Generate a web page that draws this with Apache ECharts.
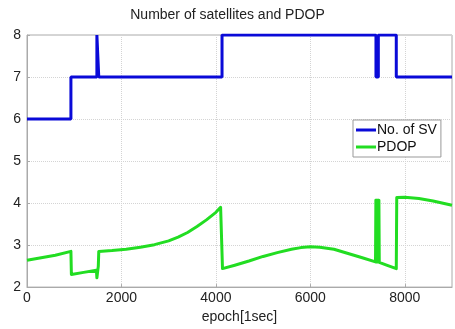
<!DOCTYPE html>
<html><head><meta charset="utf-8">
<script src="https://cdn.jsdelivr.net/npm/echarts@6/dist/echarts.min.js"></script>
<style>html,body{margin:0;padding:0;background:#fff}#c{width:455px;height:329px}</style>
</head><body><div id="c"></div>
<script>
const title = "Number of satellites and PDOP";
const xLabel = "epoch[1sec]";
const seriesNames = ["No. of SV", "PDOP"];
const svX = [0, 930, 930, 1480, 1480, 1520, 1520, 4130, 4130, 7390, 7390, 7440, 7440, 7820, 7820, 9000];
const svY = [6, 6, 7, 7, 8, 8, 7, 7, 8, 8, 7, 7, 8, 8, 7, 7];
const pdopX = [0, 300, 600, 930, 940, 1200, 1470, 1480, 1500, 1510, 1520, 1800, 2100, 2400, 2700, 3000, 3200, 3400, 3600, 3800, 4000, 4100, 4140, 4400, 4700, 5000, 5300, 5600, 5800, 6000, 6200, 6500, 6800, 7100, 7380, 7388, 7396, 7404, 7412, 7420, 7428, 7436, 7444, 7452, 7460, 7600, 7820, 7830, 8000, 8300, 8600, 9000];
const pdopY = [2.64, 2.7, 2.76, 2.85, 2.3, 2.35, 2.4, 2.22, 2.2, 2.5, 2.85, 2.87, 2.9, 2.95, 3.01, 3.1, 3.19, 3.3, 3.44, 3.6, 3.78, 3.9, 2.44, 2.52, 2.62, 2.73, 2.82, 2.9, 2.94, 2.96, 2.95, 2.9, 2.8, 2.7, 2.6, 4.07, 2.6, 4.07, 2.6, 4.07, 2.6, 4.07, 2.6, 4.07, 2.59, 2.53, 2.44, 4.13, 4.14, 4.11, 4.05, 3.95];
const yTicks = [2, 3, 4, 5, 6, 7, 8];

const sv = svX.map((x, i) => [x, svY[i]]);
const pd = pdopX.map((x, i) => [x, pdopY[i]]);
const chart = echarts.init(document.getElementById('c'));
chart.setOption({
  animation: false,
  backgroundColor: '#fff',
  title: { text: title, left: 'center', top: 3, textStyle: { fontFamily: 'Liberation Sans, Arial', fontSize: 14, fontWeight: 'normal', color: '#222' } },
  grid: { left: 27, right: 3, top: 35, bottom: 39, show: true, borderColor: '#aaa', borderWidth: 1 },
  xAxis: {
    type: 'value', min: 0, max: 9000, interval: 2000,
    name: xLabel, nameLocation: 'middle', nameGap: 19,
    nameTextStyle: { fontFamily: 'Liberation Sans, Arial', fontSize: 14, color: '#222' },
    axisLine: { show: true, lineStyle: { color: '#aaa' } },
    axisTick: { show: true, inside: true, length: 3, lineStyle: { color: '#aaa' } },
    axisLabel: { showMaxLabel: false, margin: 4, formatter: v => String(v), fontFamily: 'Liberation Sans, Arial', fontSize: 14, color: '#222' },
    splitLine: { show: true, lineStyle: { color: '#d4d4d4', type: 'dotted' } }
  },
  yAxis: {
    type: 'value', min: yTicks[0], max: yTicks[yTicks.length - 1], interval: 1,
    axisLine: { show: true, lineStyle: { color: '#aaa' } },
    axisTick: { show: true, inside: true, length: 3, lineStyle: { color: '#aaa' } },
    axisLabel: { margin: 6, fontFamily: 'Liberation Sans, Arial', fontSize: 14, color: '#222' },
    splitLine: { show: true, lineStyle: { color: '#d4d4d4', type: 'dotted' } }
  },
  legend: {
    orient: 'vertical', left: 353, top: 120, width: 99,
    backgroundColor: '#fff', borderColor: '#999', borderWidth: 1, borderRadius: 0,
    padding: [3, 4, 3, 3], itemGap: 3, itemWidth: 20, itemHeight: 3, icon: 'rect',
    textStyle: { fontFamily: 'Liberation Sans, Arial', fontSize: 14, color: '#111', padding: [0, 0, 0, -4] },
    data: seriesNames
  },
  series: [
    { name: seriesNames[0], type: 'line', data: sv, showSymbol: false, symbol: 'none', lineStyle: { color: '#0a0ad8', width: 3 }, itemStyle: { color: '#0a0ad8' } },
    { name: seriesNames[1], type: 'line', data: pd, showSymbol: false, symbol: 'none', lineStyle: { color: '#22dd22', width: 3, join: 'round' }, itemStyle: { color: '#22dd22' } }
  ]
});
</script></body></html>
